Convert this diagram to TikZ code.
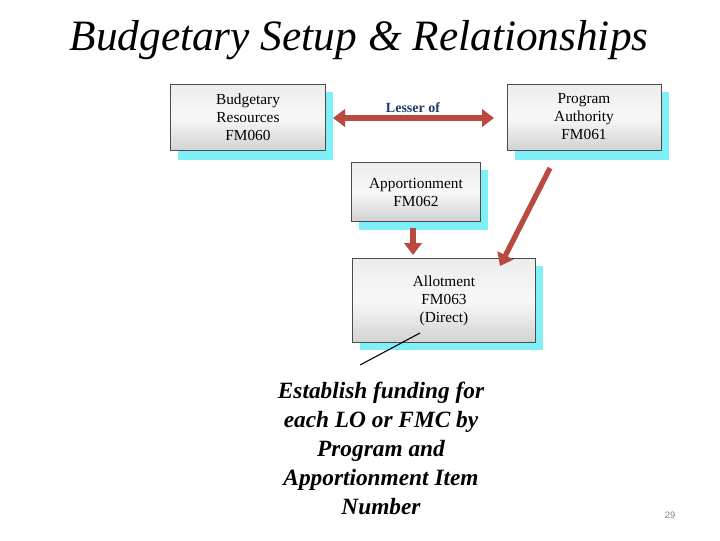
\documentclass[tikz,border=0pt]{standalone}
\usepackage{fontspec}
\setmainfont{Liberation Serif}
\newfontfamily\sansf{Liberation Sans}
\usetikzlibrary{arrows.meta}
\definecolor{arr}{HTML}{B84A40}
\definecolor{shad}{HTML}{7FF0F8}
\definecolor{lblue}{HTML}{1F3A6E}
\begin{document}
\begin{tikzpicture}[x=0.75pt,y=-0.75pt,
  box/.style={draw=black!70,line width=0.6pt,top color=gray!15,bottom color=gray!35,middle color=gray!5},
  sh/.style={fill=shad},
  bt/.style={font=\fontsize{11.5}{13.5}\selectfont,align=center,text=black},
  ar/.style={draw=arr,line width=4pt,-{Triangle[length=9pt,width=13pt]}}]
\useasboundingbox (0,0) rectangle (720,540);
\node[font=\fontsize{32.5}{36}\selectfont\itshape] (title) at (359,40) {Budgetary Setup \& Relationships};
% shadows
\fill[sh] (178,92) rectangle (333,160);
\fill[sh] (515,92) rectangle (669,160);
\fill[sh] (359,170) rectangle (488,230);
\fill[sh] (360,266) rectangle (543,350);
% boxes
\path[box] (170,84) rectangle (325,150);
\path[box] (507,84) rectangle (661,150);
\path[box] (351,162) rectangle (480,221);
\path[box] (352,258) rectangle (535,342);
\node[bt] (br) at (248,117) {Budgetary\\Resources\\FM060};
\node[bt] (pa) at (584,117) {Program\\Authority\\FM061};
\node[bt] (ap) at (416,192) {Apportionment\\FM062};
\node[bt] (al) at (444,301) {Allotment\\FM063\\(Direct)};
\coordinate (l1) at (333,118); \coordinate (l2) at (494,118);
\draw[draw=arr,line width=4pt,{Triangle[length=9pt,width=13pt]}-{Triangle[length=9pt,width=13pt]}] (l1) -- (l2);
\node[font=\fontsize{10.5}{12}\selectfont\bfseries,text=lblue] (lo) at (413,108) {Lesser of};
\coordinate (a1) at (413,228); \coordinate (a2) at (413,255);
\draw[ar] (a1) -- (a2);
\coordinate (d1) at (550,168); \coordinate (d2) at (500,266);
\draw[ar] (d1) -- (d2);
\node[font=\fontsize{17.5}{21.75}\selectfont\bfseries\itshape,align=center] (est) at (381,448) {Establish funding for\\each LO or FMC by\\Program and\\Apportionment Item\\Number};
\coordinate (c1) at (420,333);
\draw[line width=0.8pt] (360,365) -- (c1);
\node[font=\sansf\fontsize{7}{8}\selectfont,text=gray] (pg) at (670,515) {29};
\end{tikzpicture}
\end{document}
